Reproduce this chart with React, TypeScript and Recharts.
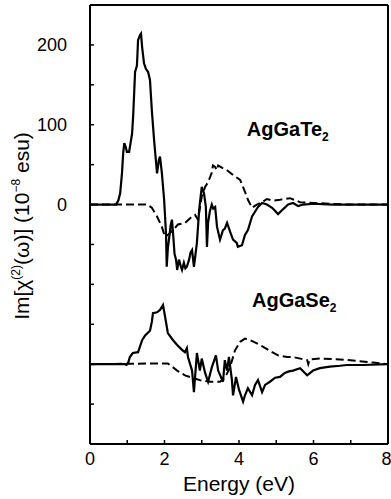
import { LineChart, Line, XAxis, YAxis, ReferenceDot } from "recharts";

// [energy (eV), Im chi(2) (1e-8 esu)]
const teSolid: [number, number][] = [
  [0, 0], [0.7, 0], [0.76, 5], [0.81, 14], [0.86, 40], [0.89, 64], [0.92, 77], [0.96, 72], [0.99, 66],
  [1.05, 66], [1.13, 89], [1.16, 112], [1.21, 166], [1.26, 174], [1.29, 206], [1.34, 212], [1.37, 214],
  [1.4, 197], [1.45, 177], [1.5, 170], [1.56, 166], [1.61, 156], [1.66, 118], [1.72, 81], [1.8, 39],
  [1.85, 56], [1.88, 60], [1.93, 39], [1.99, 6], [2.04, -36], [2.06, -78], [2.09, -55], [2.13, -40],
  [2.17, -25], [2.2, -19], [2.23, -36], [2.27, -62], [2.31, -69], [2.34, -82], [2.39, -69], [2.44, -78],
  [2.47, -82], [2.52, -73], [2.56, -80], [2.6, -78], [2.66, -69], [2.7, -60], [2.74, -57], [2.79, -78],
  [2.87, -48], [2.93, -7], [2.97, 10], [3.0, 22], [3.06, 14], [3.11, -3], [3.14, -53], [3.17, -23],
  [3.22, -8], [3.27, 0], [3.31, -5], [3.36, -3], [3.41, -28], [3.49, -44], [3.53, -38], [3.57, -32],
  [3.62, -30], [3.68, -23], [3.76, -34], [3.84, -44], [3.94, -48], [3.97, -53], [4.08, -51], [4.16, -38],
  [4.24, -32], [4.35, -15], [4.43, -9], [4.51, -3], [4.62, 2], [4.75, 0], [4.89, -4], [5.05, -12],
  [5.18, -6], [5.32, 0], [5.45, 2], [5.59, -2], [5.72, 0], [6.0, 1], [6.5, 0], [8, 0],
];

const teDashed: [number, number][] = [
  [0, 0], [1.53, 0], [1.66, -4], [1.8, -15], [1.93, -28], [2.01, -40], [2.09, -38], [2.23, -32],
  [2.36, -25], [2.55, -23], [2.74, -15], [2.82, -13], [2.9, -19], [3.0, 10], [3.09, 22], [3.17, 28],
  [3.27, 40], [3.3, 49], [3.36, 47], [3.4, 43], [3.44, 49], [3.55, 46], [3.68, 43], [3.84, 37],
  [4.03, 31], [4.16, 16], [4.24, 6], [4.35, -4], [4.48, 0], [4.62, 3], [4.75, 7], [4.91, 5], [5.1, 6],
  [5.37, 8], [5.64, 3], [5.99, 2], [6.44, 1], [6.9, 0], [8, 0],
];

const seSolid: [number, number][] = [
  [0, 0], [0.94, 0], [0.98, -1], [1.02, 1], [1.07, 9], [1.15, 14], [1.29, 15], [1.4, 30], [1.48, 36],
  [1.61, 42], [1.66, 53], [1.69, 64], [1.8, 65], [1.88, 68], [1.96, 74], [2.01, 61], [2.09, 39],
  [2.23, 30], [2.34, 24], [2.47, 18], [2.55, 15], [2.6, 20], [2.63, 9], [2.74, -8], [2.79, -35],
  [2.87, 14], [2.95, -8], [3.0, 7], [3.09, -11], [3.17, -22], [3.27, -4], [3.38, 11], [3.44, -8],
  [3.57, -22], [3.62, 5], [3.68, -8], [3.73, 9], [3.81, -20], [3.84, -39], [3.92, -16], [4.0, -32],
  [4.11, -47], [4.16, -39], [4.24, -30], [4.35, -39], [4.43, -26], [4.51, -20], [4.62, -35], [4.7, -26],
  [4.83, -22], [4.97, -17], [5.1, -16], [5.23, -11], [5.34, -9], [5.45, -8], [5.64, -5], [5.83, -14],
  [5.99, -8], [6.17, -5], [6.44, -3], [6.71, -2], [6.9, -1], [7.33, -1], [8, 0],
];

const seDashed: [number, number][] = [
  [0, 0], [2.09, 1], [2.34, -8], [2.55, -14], [2.74, -17], [2.95, -20], [3.22, -22], [3.49, -22],
  [3.62, -17], [3.76, -4], [3.89, 17], [4.03, 28], [4.16, 32], [4.3, 30], [4.48, 26], [4.64, 22],
  [4.89, 15], [5.05, 11], [5.29, 9], [5.45, 9], [5.83, 5], [5.86, 0], [5.9, 6], [6.17, 7], [6.71, 6],
  [7.17, 4], [7.6, 2], [8, 0],
];

// AgGaSe2 curves are shifted down so their zero sits at -200 on the shared axis
const SE_OFFSET = -200;

const xTicks = [0, 1, 2, 3, 4, 5, 6, 7, 8];
const xLabels = [0, 2, 4, 6, 8];
const yTicks = [-250, -200, -150, -100, -50, 0, 50, 100, 150, 200];
const yLabels = [0, 100, 200];

const toRows = (pts: [number, number][], off = 0) => pts.map(([x, y]) => ({ x, y: y + off }));

const FONT = "'Liberation Sans', Arial, Helvetica, sans-serif";

function Compound({ cx, cy, name }: any) {
  return (
    <text x={cx} y={cy} fontFamily={FONT} fontWeight="bold" fontSize={20} fill="#000">
      {name}
      <tspan fontSize={12} dy={5}>2</tspan>
    </text>
  );
}

function YTitle() {
  return (
    <text
      transform="translate(29, 226) rotate(-90)"
      textAnchor="middle"
      fontFamily={FONT}
      fontSize={21}
      fill="#000"
    >
      Im[χ<tspan fontSize={12} dy={-9}>(2)</tspan>
      <tspan dy={9}>(ω)] (10</tspan>
      <tspan fontSize={12} dy={-9}>−8</tspan>
      <tspan dy={9}> esu)</tspan>
    </text>
  );
}

const tickStyle = { fontFamily: FONT, fontSize: 18, fill: "#000" };
const axisLine = { stroke: "#000", strokeWidth: 2 };
const tickLine = { stroke: "#000", strokeWidth: 1.5 };

export default function App() {
  const solid = { stroke: "#000", strokeWidth: 2.2, dot: false, isAnimationActive: false, type: "linear" as const };
  const dashed = { ...solid, strokeWidth: 2, strokeDasharray: "8 4" };
  return (
    <div style={{ position: "absolute", left: 0, top: 0 }}>
      <LineChart width={391} height={499} margin={{ top: 4, right: 2, bottom: 0, left: 0 }}>
        <XAxis
          dataKey="x"
          type="number"
          domain={[0, 8]}
          ticks={xTicks}
          tickFormatter={(v) => (xLabels.includes(v) ? String(v) : "")}
          tickSize={-4}
          tickMargin={12}
          height={55}
          axisLine={axisLine}
          tickLine={tickLine}
          tick={tickStyle}
          allowDataOverflow
          label={{ value: "Energy (eV)", position: "insideBottom", offset: 8, style: { fontFamily: FONT, fontSize: 21, fill: "#000" } }}
        />
        <XAxis
          xAxisId="top"
          orientation="top"
          dataKey="x"
          type="number"
          domain={[0, 8]}
          ticks={xTicks}
          tickFormatter={() => ""}
          tickSize={-4}
          height={1}
          axisLine={axisLine}
          tickLine={tickLine}
        />
        <YAxis
          type="number"
          domain={[-300, 250]}
          ticks={yTicks}
          tickFormatter={(v) => (yLabels.includes(v) ? String(v) : "")}
          tickSize={-4}
          tickMargin={27}
          width={90}
          axisLine={axisLine}
          tickLine={tickLine}
          tick={tickStyle}
          allowDataOverflow
          label={<YTitle />}
        />
        <YAxis
          yAxisId="right"
          orientation="right"
          type="number"
          domain={[-300, 250]}
          ticks={yTicks}
          tickFormatter={() => ""}
          tickSize={-4}
          width={1}
          axisLine={axisLine}
          tickLine={tickLine}
        />
        <Line data={toRows(teDashed)} dataKey="y" {...dashed} />
        <Line data={toRows(seDashed, SE_OFFSET)} dataKey="y" {...dashed} />
        <Line data={toRows(teSolid)} dataKey="y" {...solid} />
        <Line data={toRows(seSolid, SE_OFFSET)} dataKey="y" {...solid} />
        <ReferenceDot x={4.21} y={86} r={0} shape={(p: any) => <Compound {...p} name="AgGaTe" />} />
        <ReferenceDot x={4.35} y={-128} r={0} shape={(p: any) => <Compound {...p} name="AgGaSe" />} />
      </LineChart>
    </div>
  );
}
